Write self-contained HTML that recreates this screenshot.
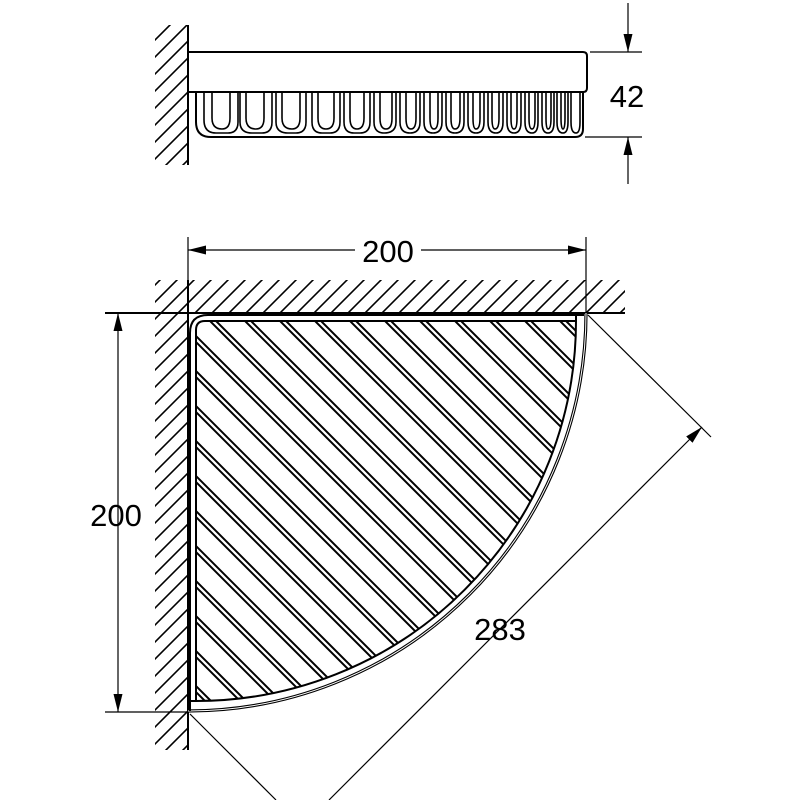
<!DOCTYPE html>
<html><head><style>html,body{margin:0;padding:0;background:#fff;overflow:hidden;width:800px;height:800px}svg{display:block}</style></head>
<body>
<svg width="800" height="800" viewBox="0 0 800 800" xmlns="http://www.w3.org/2000/svg">
<defs>
<marker id="arb" viewBox="0 0 10 10" refX="10" refY="5" markerWidth="18" markerHeight="18" markerUnits="userSpaceOnUse" orient="auto-start-reverse"><path d="M0,2.5 L10,5 L0,7.5 Z" fill="#000"/></marker>
<clipPath id="cw1"><rect x="155" y="25" width="33" height="140"/></clipPath>
<clipPath id="cw2"><path d="M155,280 H625 V313 H188 V750 H155 Z"/></clipPath>
<clipPath id="cb"><path d="M196,330 Q196,321 205,321 H576 A380,380 0 0 1 196,701 Z"/></clipPath>
</defs>
<g stroke="#000" fill="none" stroke-width="1.5">
<g clip-path="url(#cw1)" stroke-width="1.6">
<path d="M150,45 L190,5 M150,62 L190,22 M150,79 L190,39 M150,96 L190,56 M150,113 L190,73 M150,130 L190,90 M150,147 L190,107 M150,164 L190,124 M150,181 L190,141 M150,198 L190,158"/>
</g>
<line x1="188" y1="25" x2="188" y2="165" stroke-width="2"/>
<path d="M188,52 H583 Q587,52 587,56 V88 Q587,92 583,92 H188" stroke-width="2"/>
<path d="M196,92 V122 Q196,137 211,137 H575 Q583,137 583,129 V92" stroke-width="2"/>
<g stroke-width="1.6">
<path d="M204,92 V120 Q204,133 216,133 H228 Q238,133 238,122 V92"/>
<path d="M212,92 V118 Q212,129 222,129 Q230,129 230,118 V92"/>
<path d="M240,92 V122 Q240,133 252,133 H262 Q272,133 272,122 V92"/>
<path d="M246,92 V118 Q246,129 256,129 Q264,129 264,118 V92"/>
<path d="M276,92 V122 Q276,133 288,133 H296 Q306,133 306,122 V92"/>
<path d="M282,92 V118 Q282,129 292,129 Q300,129 300,118 V92"/>
<path d="M312,92 V122 Q312,133 322,133 H330 Q340,133 340,122 V92"/>
<path d="M318,92 V118 Q318,129 326,129 Q334,129 334,118 V92"/>
<path d="M344,92 V122 Q344,133 354,133 H360 Q370,133 370,122 V92"/>
<path d="M350,92 V118 Q350,129 357,129 Q364,129 364,118 V92"/>
<path d="M374,92 V122 Q374,133 384,133 Q396,133 396,122 V92"/>
<path d="M380,92 V118 Q380,129 386,129 Q392,129 392,118 V92"/>
<path d="M400,92 V122 Q400,133 410,133 Q420,133 420,122 V92"/>
<path d="M406,92 V118 Q406,129 411,129 Q416,129 416,118 V92"/>
<path d="M424,92 V122 Q424,133 433,133 Q442,133 442,122 V92"/>
<path d="M430,92 V118 Q430,129 434,129 Q438,129 438,118 V92"/>
<path d="M446,92 V122 Q446,133 455,133 Q464,133 464,122 V92"/>
<path d="M451,92 V118 Q451,129 455,129 Q460,129 460,118 V92"/>
<path d="M468,92 V122 Q468,133 476,133 Q484,133 484,122 V92"/>
<path d="M473,92 V118 Q473,129 476,129 Q480,129 480,118 V92"/>
<path d="M488,92 V122 Q488,133 496,133 Q503,133 503,122 V92"/>
<path d="M492,92 V118 Q492,129 495,129 Q499,129 499,118 V92"/>
<path d="M507,92 V122 Q507,133 514,133 Q521,133 521,122 V92"/>
<path d="M511,92 V118 Q511,129 514,129 Q517,129 517,118 V92"/>
<path d="M525,92 V122 Q525,133 532,133 Q538,133 538,122 V92"/>
<path d="M529,92 V118 Q529,129 532,129 Q535,129 535,118 V92"/>
<path d="M542,92 V122 Q542,133 548,133 Q554,133 554,122 V92"/>
<path d="M546,92 V118 Q546,129 548,129 Q551,129 551,118 V92"/>
<path d="M557,92 V122 Q557,133 563,133 Q568,133 568,122 V92"/>
<path d="M561,92 V118 Q561,129 563,129 Q565,129 565,118 V92"/>
<path d="M571,92 V122 Q571,133 576,133 Q580,133 580,122 V92"/>
</g>
<g stroke-width="1.2">
<line x1="590" y1="52" x2="642" y2="52"/>
<line x1="585" y1="137" x2="642" y2="137"/>
<line x1="628" y1="3" x2="628" y2="52" marker-end="url(#arb)"/>
<line x1="628" y1="184" x2="628" y2="137" marker-end="url(#arb)"/>
</g>
<g clip-path="url(#cw2)" stroke-width="1.6" id="hatch2"></g>
<line x1="188" y1="280" x2="188" y2="750" stroke-width="2"/>
<line x1="105" y1="313" x2="625" y2="313" stroke-width="2"/>
<line x1="105" y1="712" x2="188" y2="712" stroke-width="1.2"/>
<path d="M190,333 Q190,315 208,315 H584" stroke-width="2"/>
<path d="M586,313 A398,398 0 0 1 188,711" stroke-width="3.2"/>
<path d="M586,313 A398,398 0 0 1 188,711" stroke-width="1" stroke="#fff"/>
<path d="M196,330 Q196,321 205,321 H576 A380,380 0 0 1 196,701 Z" stroke-width="2"/>
<line x1="576" y1="321" x2="576" y2="313" stroke-width="2"/>
<line x1="188" y1="701" x2="196" y2="701" stroke-width="2"/>
<line x1="190" y1="333" x2="190" y2="711" stroke-width="2"/>
<g clip-path="url(#cb)" stroke-width="2" id="bh"></g>
<g stroke-width="1.2">
<line x1="188" y1="237" x2="188" y2="313"/>
<line x1="586" y1="237" x2="586" y2="313"/>
<line x1="188" y1="250" x2="586" y2="250" marker-start="url(#arb)" marker-end="url(#arb)"/>
<line x1="118" y1="313" x2="118" y2="712" marker-start="url(#arb)" marker-end="url(#arb)"/>
<line x1="588" y1="315" x2="711" y2="437"/>
<line x1="190" y1="714" x2="276" y2="800"/>
<line x1="329" y1="800" x2="702" y2="427" marker-end="url(#arb)"/>
</g>
</g>
<rect x="355" y="234" width="66" height="32" fill="#fff"/>
<g font-family="Liberation Sans, sans-serif" font-size="31" fill="#000" text-anchor="middle">
<text x="388" y="262">200</text>
<text x="116" y="526">200</text>
<text x="627" y="107">42</text>
<text x="500" y="640">283</text>
</g>
<script>
(function(){
var ns="http://www.w3.org/2000/svg";
var g=document.getElementById("hatch2");
for(var k=100;k<1400;k+=17){var l=document.createElementNS(ns,"line");l.setAttribute("x1",k-1000);l.setAttribute("y1",1000);l.setAttribute("x2",k);l.setAttribute("y2",0);g.appendChild(l);}
var b=document.getElementById("bh");
for(var c=-700;c<500;c+=35){for(var d=0;d<2;d++){var o=c+d*6;var l2=document.createElementNS(ns,"line");l2.setAttribute("x1",0);l2.setAttribute("y1",o);l2.setAttribute("x2",900);l2.setAttribute("y2",o+900);b.appendChild(l2);}}
})();
</script>
</svg>
</body></html>
